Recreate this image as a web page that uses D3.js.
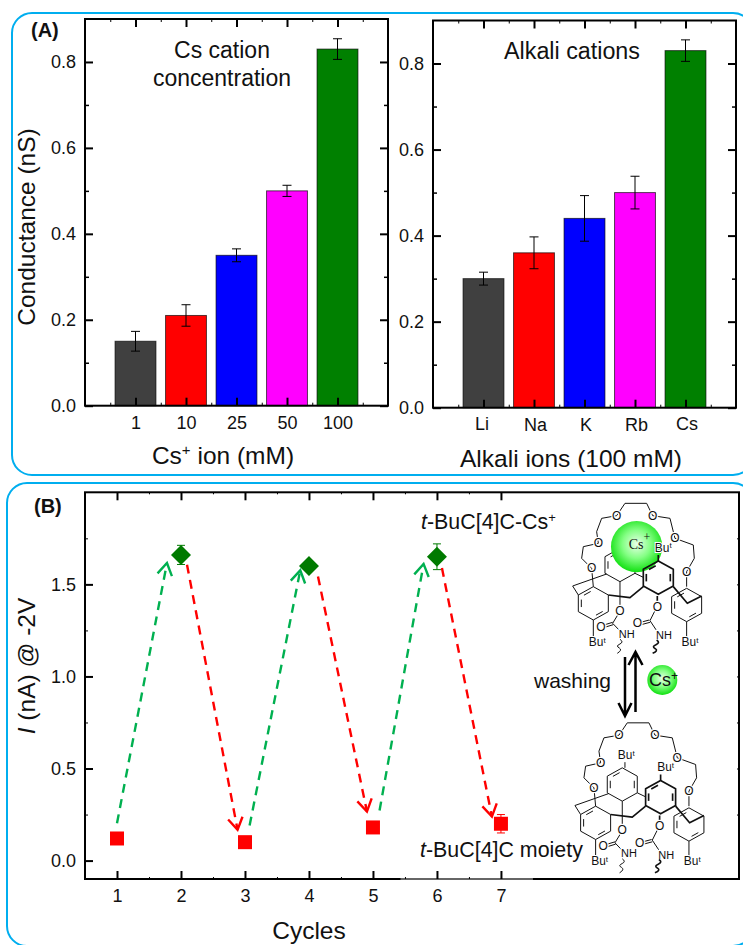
<!DOCTYPE html>
<html>
<head>
<meta charset="utf-8">
<script src="https://cdn.jsdelivr.net/npm/d3@7"></script>
<style>
body { margin: 0; background: #fff; }
svg { display: block; }
text { font-family: "Liberation Sans", Arial, sans-serif; fill: #111; }
</style>
</head>
<body>
<div id="chart"></div>
<script>
//-----------------------------DATA-----------------------------//
const concLabels = ["1", "10", "25", "50", "100"];
const concValues = [0.15, 0.21, 0.35, 0.50, 0.83];
const concErrors = [0.023, 0.025, 0.015, 0.013, 0.024];

const ionLabels = ["Li", "Na", "K", "Rb", "Cs"];
const ionValues = [0.30, 0.36, 0.44, 0.50, 0.83];
const ionErrors = [0.015, 0.037, 0.053, 0.038, 0.025];

const barColors = ["#404040", "#ff0000", "#0000ff", "#ff00ff", "#008000"];

const cycles = [1, 2, 3, 4, 5, 6, 7];
const current = [0.12, 1.66, 0.10, 1.60, 0.18, 1.65, 0.20];
const currentErrors = [0.01, 0.052, 0.01, 0.02, 0.01, 0.07, 0.05];

// arrows between the cycles, [x1, y1, x2, y2] in axis units
const upArrows = [[1.0, 0.203, 1.781, 1.616], [3.072, 0.19, 3.864, 1.576], [5.103, 0.272, 5.791, 1.611]];
const downArrows = [[2.094, 1.607, 2.884, 0.167], [4.141, 1.543, 4.906, 0.266], [6.078, 1.589, 6.859, 0.239]];

//-----------------------------SVG------------------------------//
const svg = d3.select("#chart").append("svg")
    .attr("width", 743)
    .attr("height", 945);

const defs = svg.append("defs");
const ball = defs.append("radialGradient").attr("id", "ball")
    .attr("cx", "50%").attr("cy", "45%").attr("r", "55%");
ball.append("stop").attr("offset", "0%").attr("stop-color", "#e8ffe8");
ball.append("stop").attr("offset", "50%").attr("stop-color", "#84ff84");
ball.append("stop").attr("offset", "100%").attr("stop-color", "#10e010");

// outer rounded boxes
svg.append("rect").attr("x", 12).attr("y", 13).attr("width", 741).attr("height", 462)
    .attr("rx", 20).attr("fill", "none").attr("stroke", "#00aeef").attr("stroke-width", 2);
svg.append("rect").attr("x", 7).attr("y", 483).attr("width", 746).attr("height", 463)
    .attr("rx", 20).attr("fill", "none").attr("stroke", "#00aeef").attr("stroke-width", 2);

//----------------------------HELPERS---------------------------//
function label(g, x, y, txt, size, opts) {
    opts = opts || {};
    return g.append("text")
        .attr("x", x).attr("y", y)
        .attr("font-size", size)
        .attr("font-weight", opts.weight || null)
        .attr("text-anchor", opts.anchor || "start")
        .attr("transform", opts.rotate ? "rotate(-90," + x + "," + y + ")" : null)
        .text(txt);
}

function tickStyle(sel, w) {
    sel.select(".domain").remove();
    sel.selectAll(".tick line").attr("stroke", "#000").attr("stroke-width", w);
    sel.selectAll(".tick text").attr("fill", "#111");
}

// ticks pointing into the plot on the side given
function ticks(g, axis, scale, values, len, w, fmt, pad, tx, ty, size) {
    const a = axis(scale).tickValues(values).tickSize(-len).tickPadding(pad).tickFormat(fmt || "");
    const t = g.append("g").attr("transform", "translate(" + tx + "," + ty + ")")
        .call(a)
        .attr("font-family", null)
        .attr("font-size", size || 10);
    tickStyle(t, w);
    return t;
}

function barPanel(left, right, top, bottom, labels, values, errors, labelFont) {
    const g = svg.append("g");
    const x = d3.scaleLinear().domain([0, 6]).range([left, right]);
    const y = d3.scaleLinear().domain([0, 0.9]).range([bottom, top]);
    const pos = labels.map((d, i) => i + 1);
    const half = pos.map(d => d - 0.5).concat([5.5]);
    const majorY = [0, 0.2, 0.4, 0.6, 0.8];
    const minorY = [0.1, 0.3, 0.5, 0.7];
    const bw = x(0.81) - x(0);

    g.selectAll("rect.bar").data(values).enter().append("rect")
        .attr("class", "bar")
        .attr("x", (d, i) => x(pos[i]) - bw / 2)
        .attr("y", d => y(d))
        .attr("width", bw)
        .attr("height", d => y(0) - y(d))
        .attr("fill", (d, i) => barColors[i])
        .attr("stroke", "#000")
        .attr("stroke-opacity", 0.65)
        .attr("stroke-width", 1);

    g.selectAll("line.err").data(values).enter().append("line")
        .attr("class", "err")
        .attr("x1", (d, i) => x(pos[i])).attr("x2", (d, i) => x(pos[i]))
        .attr("y1", (d, i) => y(d + errors[i])).attr("y2", (d, i) => y(d - errors[i]))
        .attr("stroke", "#000").attr("stroke-width", 1);
    [1, -1].forEach(function(s) {
        g.selectAll("line.cap" + s).data(values).enter().append("line")
            .attr("class", "cap" + s)
            .attr("x1", (d, i) => x(pos[i]) - 4.5).attr("x2", (d, i) => x(pos[i]) + 4.5)
            .attr("y1", (d, i) => y(d + s * errors[i])).attr("y2", (d, i) => y(d + s * errors[i]))
            .attr("stroke", "#000").attr("stroke-width", 1);
    });

    // frame + ticks on all four sides
    g.append("rect").attr("x", left).attr("y", top)
        .attr("width", right - left).attr("height", bottom - top)
        .attr("fill", "none").attr("stroke", "#000").attr("stroke-width", 2);

    const xLabels = ticks(g, d3.axisBottom, x, pos, 8, 2, (d, i) => labels[i], 11, 0, bottom, labelFont);
    ticks(g, d3.axisBottom, x, half, 3, 1, null, 3, 0, bottom);
    ticks(g, d3.axisTop, x, pos, 8, 2, null, 3, 0, top);
    ticks(g, d3.axisTop, x, half, 3, 1, null, 3, 0, top);
    ticks(g, d3.axisLeft, y, majorY, 8, 2, d3.format(".1f"), 9, left, 0, 18);
    ticks(g, d3.axisLeft, y, minorY, 4, 1.5, null, 3, left, 0);
    ticks(g, d3.axisRight, y, majorY, 8, 2, null, 3, right, 0);
    ticks(g, d3.axisRight, y, minorY, 4, 1.5, null, 3, right, 0);
    return xLabels;
}

//----------------------------PANEL A---------------------------//
barPanel(85, 388, 19, 405.7, concLabels, concValues, concErrors, 18);
const ionTicks = barPanel(433, 736, 20.5, 407.7, ionLabels, ionValues, ionErrors, 18);

// the ion labels sit a little off their ticks in the original
const ionShiftX = [-2, 1, 1, 1, 1];
const ionShiftY = [-1, 0, 0, 0, -1];
ionTicks.selectAll(".tick text")
    .attr("x", (d, i) => ionShiftX[i])
    .attr("y", (d, i) => 11 + ionShiftY[i]);

label(svg, 31, 37, "(A)", 20, { weight: "bold" });
label(svg, 222, 58, "Cs cation", 23, { anchor: "middle" });
label(svg, 222, 86, "concentration", 23, { anchor: "middle" });
label(svg, 572, 59, "Alkali cations", 23.3, { anchor: "middle" });
label(svg, 35, 227, "Conductance (nS)", 24.5, { anchor: "middle", rotate: true });

const csIon = label(svg, 223, 464, "Cs", 24.5, { anchor: "middle" });
csIon.append("tspan").attr("dy", -9).attr("font-size", 15).text("+");
csIon.append("tspan").attr("dy", 9).text(" ion (mM)");
label(svg, 571, 467, "Alkali ions (100 mM)", 24.5, { anchor: "middle" });

//----------------------------PANEL B---------------------------//
const gB = svg.append("g");
const xB = d3.scaleLinear().domain([0.5, 10.72]).range([85, 739]);
const yB = d3.scaleLinear().domain([-0.1, 2.0]).range([879, 492.3]);

gB.append("rect").attr("x", xB.range()[0]).attr("y", yB.range()[1])
    .attr("width", xB.range()[1] - xB.range()[0]).attr("height", yB.range()[0] - yB.range()[1])
    .attr("fill", "none").attr("stroke", "#000").attr("stroke-width", 2);
// bottom axis is paler under the last two cycles
gB.append("line").attr("x1", xB(5.43)).attr("x2", xB(7.5)).attr("y1", 879).attr("y2", 879)
    .attr("stroke", "#666").attr("stroke-width", 2);

const halfB = [1.5, 2.5, 3.5, 4.5, 5.5, 6.5];
const quarterB = [0.25, 0.5, 0.75, 1.0, 1.25, 1.5, 1.75];
ticks(gB, d3.axisBottom, xB, cycles, 8, 2, d3.format("d"), 10, 0, 879, 18);
ticks(gB, d3.axisBottom, xB, halfB, 2, 1, null, 3, 0, 879);
ticks(gB, d3.axisTop, xB, cycles, 8, 2, null, 3, 0, 492.3);
ticks(gB, d3.axisTop, xB, halfB, 2, 1, null, 3, 0, 492.3);
ticks(gB, d3.axisLeft, yB, [0, 0.5, 1.0, 1.5], 8, 2, d3.format(".1f"), 9, 85, 0, 18);
ticks(gB, d3.axisLeft, yB, [0.25, 0.75, 1.25, 1.75], 3, 1, null, 3, 85, 0);
ticks(gB, d3.axisRight, yB, quarterB, 2, 1, null, 3, 739, 0);

function arrows(list, color) {
    const gA = gB.append("g").attr("stroke", color).attr("fill", "none")
        .attr("stroke-width", 2.4);
    gA.selectAll("line").data(list).enter().append("line")
        .attr("x1", d => xB(d[0])).attr("y1", d => yB(d[1]))
        .attr("x2", d => xB(d[2])).attr("y2", d => yB(d[3]))
        .attr("stroke-dasharray", "9,6.5");
    gA.selectAll("path").data(list).enter().append("path")
        .attr("d", function(d) {
            const tx = xB(d[2]), ty = yB(d[3]);
            const a = Math.atan2(yB(d[1]) - ty, xB(d[0]) - tx);
            const p = d3.path();
            p.moveTo(tx + 14 * Math.cos(a + 0.55), ty + 14 * Math.sin(a + 0.55));
            p.lineTo(tx, ty);
            p.lineTo(tx + 14 * Math.cos(a - 0.55), ty + 14 * Math.sin(a - 0.55));
            return p.toString();
        });
}
arrows(upArrows, "#00b050");
arrows(downArrows, "#ff0000");

// even cycles are the Cs loaded state (diamond), odd ones washed (square)
const markerColor = d => d % 2 === 0 ? "#007a00" : "#ff0000";
const gP = gB.append("g");
gP.selectAll("line.bar").data(cycles).enter().append("line")
    .attr("class", "bar")
    .attr("x1", d => xB(d)).attr("x2", d => xB(d))
    .attr("y1", (d, i) => yB(current[i] + currentErrors[i]))
    .attr("y2", (d, i) => yB(current[i] - currentErrors[i]))
    .attr("stroke", markerColor).attr("stroke-width", 1);
[1, -1].forEach(function(s) {
    gP.selectAll("line.cap" + s).data(cycles).enter().append("line")
        .attr("class", "cap" + s)
        .attr("x1", d => xB(d) - 4).attr("x2", d => xB(d) + 4)
        .attr("y1", (d, i) => yB(current[i] + s * currentErrors[i]))
        .attr("y2", (d, i) => yB(current[i] + s * currentErrors[i]))
        .attr("stroke", markerColor).attr("stroke-width", 1);
});
gP.selectAll("path").data(cycles).enter().append("path")
    .attr("transform", (d, i) => "translate(" + xB(d) + "," + yB(current[i]) + ")")
    .attr("d", d => d % 2 === 0 ? "M0,-10L10,0L0,10L-10,0Z" : "M-7,-7H7V7H-7Z")
    .attr("fill", markerColor);

const yTitle = label(svg, 35, 666, "", 24.5, { anchor: "middle", rotate: true });
yTitle.append("tspan").attr("font-style", "italic").text("I");
yTitle.append("tspan").text(" (nA) @ -2V");
label(svg, 309, 939, "Cycles", 24.5, { anchor: "middle" });
label(svg, 34, 513, "(B)", 20, { weight: "bold" });

const tTop = label(svg, 421, 529, "", 21.4);
tTop.append("tspan").attr("font-style", "italic").text("t");
tTop.append("tspan").text("-BuC[4]C-Cs");
tTop.append("tspan").attr("dy", -7).attr("font-size", 13).text("+");
const tBot = label(svg, 420, 857, "", 21.4);
tBot.append("tspan").attr("font-style", "italic").text("t");
tBot.append("tspan").text("-BuC[4]C moiety");

//-------------------------MOLECULES----------------------------//
// drawn in 3x units, so 3 units is one pixel on the page
function poly(g, pts, w, closed) {
    const l = d3.line();
    g.append("path").attr("d", l(pts) + (closed ? "Z" : ""))
        .attr("fill", "none").attr("stroke", "#111").attr("stroke-width", w)
        .attr("stroke-linejoin", "round");
}
function hex(g, cx, cy, w, inner) {
    const pts = [[cx - 45, cy - 25], [cx, cy - 50], [cx + 45, cy - 25], [cx + 45, cy + 25], [cx, cy + 50], [cx - 45, cy + 25]];
    poly(g, pts, w, true);
    inner.forEach(function(k) {
        const a = pts[k], b = pts[(k + 1) % 6];
        const s = 0.78, t = 0.22;
        const ia = [cx + (a[0] - cx) * 0.8, cy + (a[1] - cy) * 0.8], ib = [cx + (b[0] - cx) * 0.8, cy + (b[1] - cy) * 0.8];
        poly(g, [[ia[0] * s + ib[0] * t, ia[1] * s + ib[1] * t], [ia[0] * t + ib[0] * s, ia[1] * t + ib[1] * s]], w);
    });
}
function atom(g, x, y, txt, size) {
    g.append("text").attr("x", x).attr("y", y).attr("text-anchor", "middle")
        .attr("font-size", size || 36)
        .attr("stroke", "#fff").attr("stroke-width", 8).attr("paint-order", "stroke")
        .text(txt);
}
function tbu(g, x, y) {
    const t = g.append("text").attr("x", x).attr("y", y).attr("text-anchor", "middle").attr("font-size", 36)
        .attr("stroke", "#fff").attr("stroke-width", 6).attr("paint-order", "stroke");
    t.append("tspan").text("Bu");
    t.append("tspan").attr("dy", -10).attr("font-size", 24).text("t");
}

function molecule(tx, ty, withBall) {
    const g = svg.append("g").attr("transform", "translate(" + tx + "," + ty + ") scale(0.3333)");

    // back of the molecule: crown, two side rings, hidden ring
    poly(g, [[575, 235], [545, 205], [550, 170], [595, 160], [590, 125], [605, 85], [650, 77], [675, 40], [740, 40], [758, 77], [810, 85], [825, 145], [880, 165], [883, 205], [860, 245]], 3);
    hex(g, 660, 225, 3, [5, 0, 2]);
    // the ball hides this group in the loaded state
    if (!withBall) {
        poly(g, [[668, 175], [668, 158]], 3);
        tbu(g, 672, 150);
    }
    poly(g, [[575, 235], [580, 290]], 3);
    hex(g, 580, 340, 3, [5, 0, 3]);
    poly(g, [[580, 390], [580, 445]], 3);
    tbu(g, 592, 468);
    poly(g, [[535, 315], [518, 288], [620, 252]], 3);
    poly(g, [[860, 245], [860, 290]], 3);
    hex(g, 860, 345, 3, [5, 0, 3]);
    poly(g, [[860, 395], [860, 445]], 3);
    tbu(g, 870, 468);
    poly(g, [[660, 275], [660, 350]], 3);
    poly(g, [[705, 250], [730, 262]], 3);
    atom(g, 650, 89, "O");
    atom(g, 758, 89, "O");
    atom(g, 825, 157, "O");
    atom(g, 860, 257, "O");
    atom(g, 595, 172, "O");
    atom(g, 575, 247, "O");

    if (withBall) {
        g.append("circle").attr("cx", 710).attr("cy", 170).attr("r", 77).attr("fill", "url(#ball)");
        const cs = g.append("text").attr("x", 686).attr("y", 178)
            .attr("font-size", 42).style("font-family", "Liberation Serif").text("Cs");
        cs.append("tspan").attr("dy", -26).attr("font-size", 36).text("+");
    }

    // front of the molecule, bold bonds
    hex(g, 775, 263, 5, [5, 0, 2]);
    poly(g, [[625, 315], [690, 323], [730, 290]], 5);
    poly(g, [[820, 290], [862, 340], [905, 318]], 5);
    poly(g, [[775, 213], [775, 195]], 5);
    tbu(g, 790, 185);

    // carbamates and wavy tails
    poly(g, [[655, 372], [638, 400], [662, 425]], 3);
    poly(g, [[638, 397], [612, 405]], 3);
    poly(g, [[640, 404], [614, 412]], 3);
    atom(g, 660, 374, "O");
    atom(g, 603, 422, "O");
    atom(g, 680, 444, "NH", 33);
    g.append("path").attr("d", "M660,448q12,8 0,14q-14,6 -2,12q10,6 -6,16")
        .attr("fill", "none").attr("stroke", "#111").attr("stroke-width", 3);
    poly(g, [[772, 318], [772, 340]], 5);
    poly(g, [[765, 362], [750, 392], [772, 425]], 3);
    poly(g, [[748, 390], [722, 397]], 3);
    poly(g, [[750, 397], [724, 404]], 3);
    atom(g, 772, 362, "O");
    atom(g, 712, 412, "O");
    atom(g, 792, 448, "NH", 33);
    g.append("path").attr("d", "M770,450q12,8 -2,14q-14,6 -2,12q10,6 -8,14")
        .attr("fill", "none").attr("stroke", "#111").attr("stroke-width", 5);
}
molecule(400, 490, true);
molecule(402.3, 709.5, false);

//--------------------------WASHING-----------------------------//
label(svg, 534, 688, "washing", 21);
const gW = svg.append("g").attr("fill", "none").attr("stroke", "#000").attr("stroke-width", 2.5);
gW.append("path").attr("d", "M625,657V715M618.5,703L625,716L631.5,703");
gW.append("path").attr("d", "M635.5,712V653M628.5,665L635.5,652L642.5,665");

svg.append("circle").attr("cx", 662.3).attr("cy", 680).attr("r", 15).attr("fill", "url(#ball)");
const csBall = label(svg, 649, 686, "Cs", 18);
csBall.append("tspan").attr("dy", -6).attr("font-size", 12).text("+");
</script>
</body>
</html>
